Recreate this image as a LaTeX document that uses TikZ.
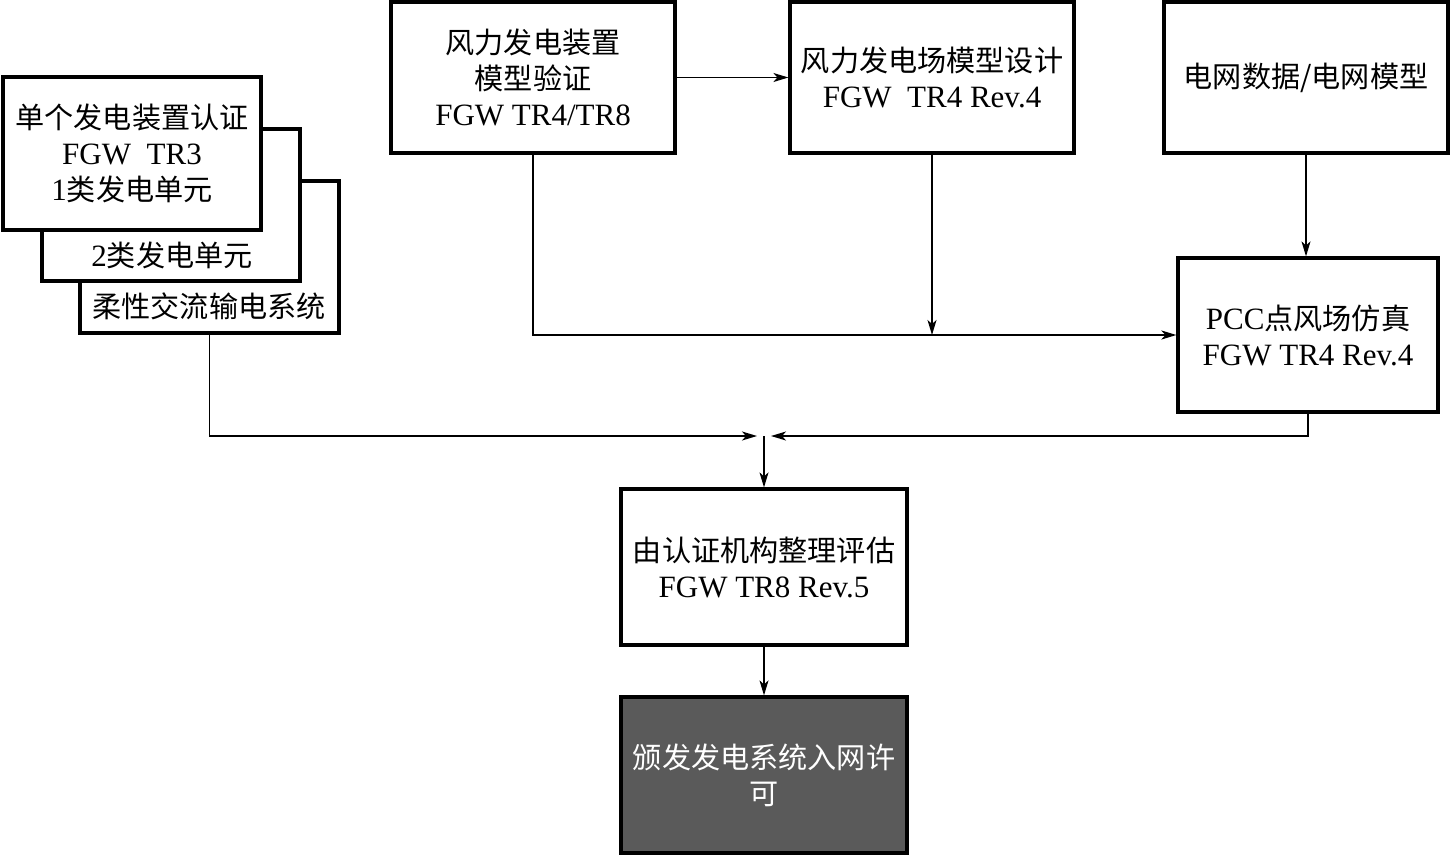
\documentclass[tikz,border=0pt]{standalone}
\usepackage{fontspec}
\setmainfont{Liberation Serif}
\newfontfamily\cjk{Noto Sans CJK SC}[Scale=0.94]
\usetikzlibrary{arrows.meta}
\definecolor{darkbox}{HTML}{5A5A5A}
\begin{document}
\begin{tikzpicture}[x=1bp,y=-1bp,
  txt/.style={align=center, inner sep=0pt, font=\fontsize{31bp}{36bp}\selectfont},
  box/.style={txt, draw, line width=3.2bp, fill=white},
  back/.style={draw, line width=3.2bp, fill=white, inner sep=0pt},
  conn/.style={line width=1.4bp, -{Stealth[length=15bp,width=9bp,inset=4bp]}}]
\useasboundingbox (0,0) rectangle (1451,856);
% stacked cards
\node[back, minimum width=259bp, minimum height=152bp] (a3) at (209.5,257) {};
\node[txt] (t3) at (209,306) {{\cjk 柔性交流输电系统}};
\node[back, minimum width=258bp, minimum height=152bp] (a2) at (171,205) {};
\node[txt] (t2) at (172,255) {2{\cjk 类发电单元}};
\node[box, minimum width=258bp, minimum height=153bp] (a1) at (132,153.5)
  {{\cjk 单个发电装置认证}\\FGW\enspace TR3\\1{\cjk 类发电单元}};
% top boxes
\node[box, minimum width=284bp, minimum height=151bp] (B) at (533,77.5)
  {{\cjk 风力发电装置}\\{\cjk 模型验证}\\FGW TR4/TR8};
\node[box, minimum width=284bp, minimum height=151bp] (C) at (932,77.5)
  {{\cjk 风力发电场模型设计}\\FGW\enspace TR4 Rev.4};
\node[box, minimum width=284bp, minimum height=151bp] (D) at (1306,77.5)
  {{\cjk 电网数据/电网模型}};
\node[box, minimum width=260bp, minimum height=154bp] (E) at (1308,335)
  {PCC{\cjk 点风场仿真}\\FGW TR4 Rev.4};
\node[box, minimum width=286bp, minimum height=156bp] (F) at (764,567)
  {{\cjk 由认证机构整理评估}\\FGW TR8 Rev.5};
\node[box, fill=darkbox, text=white, minimum width=286bp, minimum height=156bp] (G) at (764,775)
  {{\cjk 颁发发电系统入网许}\\{\cjk 可}};
% junction coordinates
\coordinate (J) at (764,436);
\coordinate (Jl) at (757,436);
\coordinate (Jr) at (771,436);
% connectors
\draw[conn] (B.east) -- (C.west);
\draw[conn, line width=2bp] (B.south) |- (E.west);
\draw[conn] (C.south) -- (C.south |- E.west);
\draw[conn] (D.south) -- (D.south |- E.north);
\draw[conn] (a3.south) |- (Jl);
\draw[conn] (E.south) |- (Jr);
\draw[conn] (J) -- (F.north);
\draw[conn] (F.south) -- (G.north);
\end{tikzpicture}
\end{document}
